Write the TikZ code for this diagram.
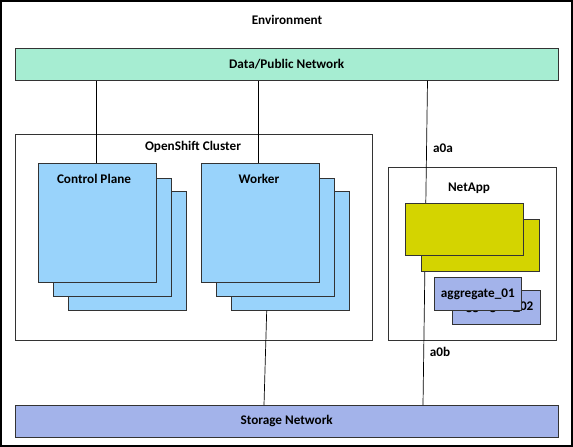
\documentclass[tikz,border=0pt]{standalone}
\usepackage{fontspec}
\setmainfont{Carlito}
\begin{document}
\begin{tikzpicture}[x=1pt,y=-1pt,
  every node/.style={font=\bfseries\fontsize{13.2}{15}\selectfont, text=black},
  box/.style={draw=black!80, line width=0.8pt, inner sep=0pt, outer sep=0pt},
  net/.style={box, fill=#1},
  nodebox/.style={box, fill=nodeblue},
  lbl/.style={inner sep=0pt},
  conn/.style={draw=black, line width=0.7pt}]
\definecolor{mint}{HTML}{A6EDD2}
\definecolor{nodeblue}{HTML}{99D3FB}
\definecolor{olive}{HTML}{D4D400}
\definecolor{peri}{HTML}{A3B3EA}
\useasboundingbox (0,0) rectangle (573,447);
\draw[line width=1.6pt] (0.8,0.8) rectangle (572.2,446.2);
\node[lbl] (env) at (287,20) {Environment};

% containers
\draw[box] (15.3,134) rectangle (372.3,340);
\node[lbl] (osc) at (193,147) {OpenShift Cluster};
\draw[box] (388.3,167.7) rectangle (556.7,340);
\node[lbl] (netapp) at (469,188) {NetApp};

% named anchor points for connectors
\coordinate (xcp) at (96.5,0);
\coordinate (xwk) at (258,0);
\coordinate (xna) at (427.5,0);
\coordinate (xnb) at (423,0);
\coordinate (xwb) at (266.7,0);
\coordinate (xsb) at (264,0);

% networks
\node[net=mint, minimum width=542.6pt, minimum height=32.4pt, anchor=north west] (data) at (15.4,48.3) {Data/Public Network};
\node[net=peri, minimum width=542.6pt, minimum height=32.3pt, anchor=north west] (stor) at (15.4,405) {Storage Network};

% control plane stack
\node[nodebox, minimum width=117.7pt, minimum height=119pt, anchor=north west] (cp3) at (68.3,191.7) {};
\node[nodebox, minimum width=117.7pt, minimum height=118.4pt, anchor=north west] (cp2) at (53.3,178.3) {};
\node[nodebox, minimum width=117.7pt, minimum height=119pt, anchor=north west] (cp1) at (38.3,163.3) {};
\node[lbl] (cplbl) at (94,179) {Control Plane};

% worker stack
\node[nodebox, minimum width=117.6pt, minimum height=119pt, anchor=north west] (wk3) at (231.7,191.7) {};
\node[nodebox, minimum width=117.6pt, minimum height=118.4pt, anchor=north west] (wk2) at (216.7,178.3) {};
\node[nodebox, minimum width=117.7pt, minimum height=119pt, anchor=north west] (wk1) at (201.3,163.3) {};
\node[lbl] (wklbl) at (259,179) {Worker};

% connectors (drawn before the NetApp boxes, which hide part of them)
\path[conn] (data.south -| xcp) -- (cp1.north -| xcp);
\path[conn] (data.south -| xwk) -- (wk1.north -| xwk);
\path[conn] (wk3.south -| xwb) -- (stor.north -| xsb);
\path[conn] (data.south -| xna) -- (stor.north -| xnb);

% NetApp controllers
\node[box, fill=olive, minimum width=117.6pt, minimum height=52.4pt, anchor=north west] (ctl2) at (421.7,219.3) {};
\node[box, fill=olive, minimum width=118pt, minimum height=51.7pt, anchor=north west] (ctl1) at (405.3,203.3) {};

% aggregates
\node[box, fill=peri, minimum width=87.6pt, minimum height=33.3pt, anchor=north west] (ag2) at (452.7,290.7) {aggregate\_02};
\node[box, fill=peri, minimum width=87.7pt, minimum height=33.4pt, anchor=north west] (ag1) at (434,277.3) {aggregate\_01};

\node[lbl] (a0a) at (443,148) {a0a};
\node[lbl] (a0b) at (440,351.7) {a0b};
\end{tikzpicture}
\end{document}
